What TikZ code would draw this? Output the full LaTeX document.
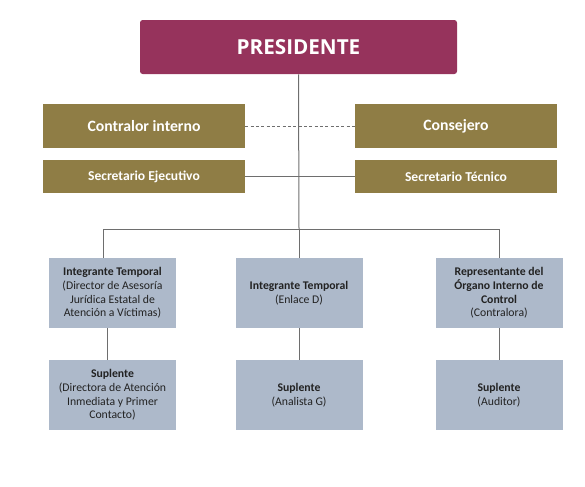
\documentclass[tikz,border=0pt]{standalone}
\usepackage{fontspec}
\setmainfont{Carlito}
\newfontfamily\titlefont{Open Sans}
\usepackage{xcolor}
\usetikzlibrary{positioning}
\definecolor{vino}{HTML}{96335C}
\definecolor{oliva}{HTML}{8F7D45}
\definecolor{grisazul}{HTML}{ADB9CA}
\definecolor{linea}{HTML}{6E6E6E}
\definecolor{texto}{HTML}{222222}

\begin{document}
\begin{tikzpicture}[x=0.75pt,y=-0.75pt,
  every node/.style={inner sep=0pt,align=center},
  presbox/.style={fill=vino,rounded corners=2pt,text=white,minimum width=237.75pt,minimum height=40.5pt,font=\titlefont\bfseries\fontsize{15.5}{18}\selectfont},
  cargo/.style={fill=oliva,text=white,minimum width=151.5pt,font=\bfseries\fontsize{11.8}{13}\selectfont},
  secre/.style={cargo,minimum height=24.75pt,font=\bfseries\fontsize{10.2}{12}\selectfont},
  miembro/.style={fill=grisazul,text=texto,minimum width=95.25pt,minimum height=52.5pt,font=\fontsize{8.8}{10.3}\selectfont},
  conn/.style={draw=linea,line width=0.75pt}]
  \useasboundingbox (0,0) rectangle (585,486);
  % cabeza y consejo
  \node[presbox] (pres) at (298.5,47) {PRESIDENTE};
  \node[cargo,minimum height=33pt] (contralor) at (144,126) {Contralor interno};
  \node[cargo,minimum height=33pt] (consejero) at (456,126) {Consejero};
  \node[secre] (secej) at (144,176.5) {Secretario Ejecutivo};
  \node[secre] (sectec) at (456,176.5) {Secretario Técnico};
  % integrantes y suplentes
  \node[miembro] (int1) at (112.5,293) {\textbf{Integrante Temporal}\\(Director de Asesoría\\Jurídica Estatal de\\Atención a Víctimas)};
  \node[miembro] (int2) at (299,293) {\textbf{Integrante Temporal}\\(Enlace D)};
  \node[miembro] (int3) at (499,293) {\textbf{Representante del}\\\textbf{Órgano Interno de}\\\textbf{Control}\\(Contralora)};
  \node[miembro] (sup1) at (112.5,395) {\textbf{Suplente}\\(Directora de Atención\\Inmediata y Primer\\Contacto)};
  \node[miembro] (sup2) at (299,395) {\textbf{Suplente}\\(Analista G)};
  \node[miembro] (sup3) at (499,395) {\textbf{Suplente}\\(Auditor)};
  \coordinate (bus) at (299,229);
  % lineas
  \draw[conn] (pres.south) -- (bus);
  \draw[conn,dash pattern=on 2.2pt off 1.8pt] (contralor.east) -- (consejero.west);
  \draw[conn] (secej.east) -- (sectec.west);
  \draw[conn] ([xshift=-7pt]int1.north) -- ([xshift=-7pt]int1.north |- bus) -- (int3.north |- bus) -- (int3.north);
  \draw[conn] (bus) -- (int2.north);
  \draw[conn] ([xshift=-3.4pt]int1.south) -- ([xshift=-3.4pt]sup1.north);
  \foreach \i in {2,3}
    \draw[conn] (int\i.south) -- (sup\i.north);
\end{tikzpicture}
\end{document}
